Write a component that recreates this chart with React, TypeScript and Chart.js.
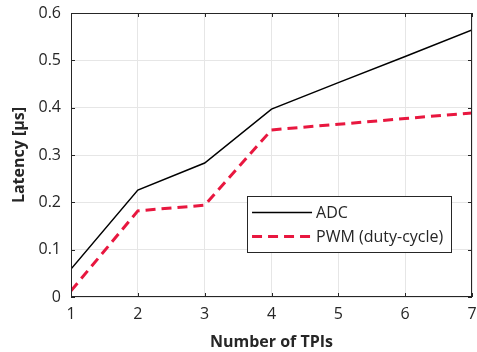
import React, { useEffect, useRef } from "react";
import { Chart, registerables } from "chart.js";

Chart.register(...registerables);

const tpis = [1, 2, 3, 4, 5, 6, 7];
const adcLatency = [0.059, 0.226, 0.283, 0.397, 0.453, 0.508, 0.564];
const pwmLatency = [0.013, 0.182, 0.194, 0.353, 0.365, 0.377, 0.389];
const seriesNames = ["ADC", "PWM (duty-cycle)"];
const xTitle = "Number of TPIs";
const yTitle = "Latency [µs]";

const FONT = "'Open Sans', 'Noto Sans', sans-serif";
const RED = "#e8173f";

const boxPlugin = {
  id: "matlabBox",
  afterDraw(chart: any) {
    const { ctx, chartArea: a, scales } = chart;
    ctx.save();
    ctx.strokeStyle = "#262626";
    ctx.lineWidth = 1;
    ctx.strokeRect(a.left + 0.5, a.top + 0.5, a.right - a.left - 1, a.bottom - a.top - 1);
    const tl = 4;
    ctx.beginPath();
    scales.x.ticks.forEach((t: any) => {
      const x = Math.round(scales.x.getPixelForValue(t.value)) + 0.5;
      ctx.moveTo(x, a.bottom);
      ctx.lineTo(x, a.bottom - tl);
      ctx.moveTo(x, a.top);
      ctx.lineTo(x, a.top + tl);
    });
    scales.y.ticks.forEach((t: any) => {
      const y = Math.round(scales.y.getPixelForValue(t.value)) + 0.5;
      ctx.moveTo(a.left, y);
      ctx.lineTo(a.left + tl, y);
      ctx.moveTo(a.right, y);
      ctx.lineTo(a.right - tl, y);
    });
    ctx.stroke();

    // legend box
    const w = a.right - a.left;
    const h = a.bottom - a.top;
    const lx = a.left + w * 0.439;
    const ly = a.top + h * 0.644;
    const lw = 204;
    const lh = 56;
    ctx.fillStyle = "#ffffff";
    ctx.fillRect(lx, ly, lw, lh);
    ctx.strokeStyle = "#262626";
    ctx.lineWidth = 1;
    ctx.strokeRect(Math.round(lx) + 0.5, Math.round(ly) + 0.5, lw, lh);
    const items = [
      { name: seriesNames[0], color: "#000000", width: 1.5, dash: [] as number[] },
      { name: seriesNames[1], color: RED, width: 3, dash: [10, 6] },
    ];
    items.forEach((it, i) => {
      const yy = ly + 16.5 + i * 24;
      ctx.beginPath();
      ctx.strokeStyle = it.color;
      ctx.lineWidth = it.width;
      ctx.setLineDash(it.dash);
      ctx.moveTo(lx + 5, yy);
      ctx.lineTo(lx + 65, yy);
      ctx.stroke();
      ctx.setLineDash([]);
      ctx.fillStyle = "#262626";
      ctx.font = `16px ${FONT}`;
      ctx.textBaseline = "middle";
      ctx.textAlign = "left";
      ctx.fillText(it.name, lx + 69, yy + 1);
    });
    ctx.restore();
  },
};

export default function App() {
  const ref = useRef<HTMLCanvasElement | null>(null);
  useEffect(() => {
    if (!ref.current) return;
    const chart = new Chart(ref.current, {
      type: "line",
      data: {
        labels: tpis,
        datasets: [
          {
            label: seriesNames[0],
            data: tpis.map((x, i) => ({ x, y: adcLatency[i] })),
            borderColor: "#000000",
            borderWidth: 1.5,
            pointRadius: 0,
            fill: false,
            tension: 0,
          },
          {
            label: seriesNames[1],
            data: tpis.map((x, i) => ({ x, y: pwmLatency[i] })),
            borderColor: RED,
            borderWidth: 3,
            borderDash: [10, 6],
            pointRadius: 0,
            fill: false,
            tension: 0,
          },
        ],
      },
      options: {
        animation: false,
        responsive: false,
        maintainAspectRatio: false,
        layout: { padding: { left: 0, right: 5, top: 13, bottom: 0 } },
        plugins: { legend: { display: false }, tooltip: { enabled: false } },
        scales: {
          x: {
            type: "linear",
            min: 1,
            max: 7,
            border: { display: false },
            grid: { color: "#e6e6e6", drawTicks: false },
            ticks: {
              stepSize: 1,
              padding: 8,
              color: "#262626",
              font: { family: FONT, size: 16 },
            },
            title: {
              display: true,
              text: xTitle,
              color: "#262626",
              font: { family: FONT, size: 16, weight: "bold" },
              padding: { top: 0, bottom: 0 },
            },
            afterFit(s: any) {
              s.height = 55;
              s.paddingLeft = 0;
              s.paddingRight = 0;
            },
          },
          y: {
            min: 0,
            max: 0.6,
            border: { display: false },
            grid: { color: "#e6e6e6", drawTicks: false },
            ticks: {
              stepSize: 0.1,
              padding: 10,
              color: "#262626",
              font: { family: FONT, size: 16 },
              callback: (v: any) => String(Math.round(Number(v) * 10) / 10),
            },
            title: {
              display: true,
              text: yTitle,
              color: "#262626",
              font: { family: FONT, size: 16, weight: "bold" },
              padding: { top: 10, bottom: 0 },
            },
            afterFit(s: any) {
              s.width = 71;
              s.paddingTop = 0;
              s.paddingBottom = 0;
            },
          },
        },
      },
      plugins: [boxPlugin],
    });
    return () => chart.destroy();
  }, []);
  return (
    <div style={{ position: "fixed", left: 0, top: 0, width: 477, height: 352, background: "#fff" }}>
      <canvas ref={ref} width={477} height={352} style={{ width: 477, height: 352 }} />
    </div>
  );
}
